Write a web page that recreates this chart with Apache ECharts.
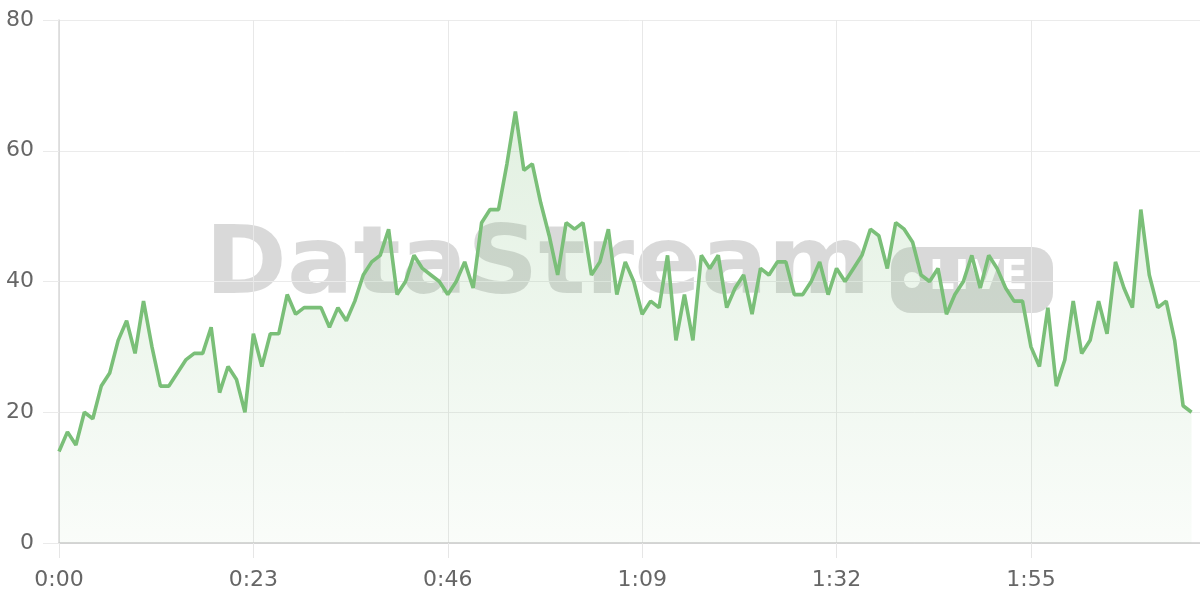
<!DOCTYPE html>
<html>
<head>
<meta charset="utf-8">
<script src="https://cdn.jsdelivr.net/npm/echarts@6/dist/echarts.min.js"></script>
<style>
html,body{margin:0;padding:0;background:#fff;}
#chart{width:1200px;height:600px;}
</style>
</head>
<body>
<div id="chart"></div>
<script>
// Values per second (0:00 .. 2:14)
const values = [
  14,17,15,20,19,24,26,31,34,29,
  37,30,24,24,26,28,29,29,33,23,
  27,25,20,32,27,32,32,38,35,36,
  36,36,33,36,34,37,41,43,44,48,
  38,40,44,42,41,40,38,40,43,39,
  49,51,51,58,66,57,58,52,47,41,
  49,48,49,41,43,48,38,43,40,35,
  37,36,44,31,38,31,44,42,44,36,
  39,41,35,42,41,43,43,38,38,40,
  43,38,42,40,42,44,48,47,42,49,
  48,46,41,40,42,35,38,40,44,39,
  44,42,39,37,37,30,27,36,24,28,
  37,29,31,37,32,43,39,36,51,41,
  36,37,31,21,20
];
const yTicks = [0, 20, 40, 60, 80];
const xTickSeconds = [0, 23, 46, 69, 92, 115];
const watermarkText = 'DataStream';
const badgeText = 'LIVE';

function fmt(s) {
  const m = Math.floor(s / 60);
  const ss = s % 60;
  return m + ':' + (ss < 10 ? '0' : '') + ss;
}

const chart = echarts.init(document.getElementById('chart'), null, {renderer: 'canvas'});
const green = '#7abf78';
const labelFont = {color: '#666', fontSize: 22, fontFamily: 'DejaVu Sans'};

chart.setOption({
  animation: false,
  backgroundColor: '#fff',
  grid: {left: 59, right: 0, top: 20, bottom: 57, containLabel: false, outerBoundsMode: 'none'},
  graphic: [
    {
      type: 'text', z: 0, left: 205, top: 222,
      scaleX: 1.05,
      style: {text: watermarkText, fill: 'rgba(0,0,0,0.15)', font: 'bold 94px "DejaVu Sans"'}
    },
    {
      type: 'rect', z: 0, shape: {x: 891, y: 247, width: 162, height: 66, r: 20},
      style: {fill: 'rgba(0,0,0,0.15)'}
    },
    {
      type: 'circle', z: 0, shape: {cx: 912, cy: 280, r: 8},
      style: {fill: '#fff'}
    },
    {
      type: 'text', z: 0, left: 929, top: 259,
      style: {text: badgeText, fill: '#fff', font: 'bold 40px "DejaVu Sans"'}
    }
  ],
  xAxis: {
    type: 'value',
    min: 0, max: 135, interval: 23,
    axisLine: {show: true, lineStyle: {color: '#ccc', width: 1.5}},
    axisTick: {show: true, length: 15, lineStyle: {color: '#e6e6e6'}},
    splitLine: {show: true, lineStyle: {color: '#e8e8e8'}},
    axisLabel: Object.assign({margin: 26, showMaxLabel: false, formatter: v => fmt(v)}, labelFont)
  },
  yAxis: {
    type: 'value',
    min: yTicks[0], max: yTicks[yTicks.length - 1], interval: 20,
    axisLine: {show: true, lineStyle: {color: '#d9d9d9', width: 1.5}},
    axisTick: {show: true, length: 16, lineStyle: {color: '#eaeaea'}},
    splitLine: {show: true, lineStyle: {color: '#ebebeb'}},
    axisLabel: Object.assign({margin: 25}, labelFont)
  },
  series: [{
    type: 'line',
    data: values.map((v, i) => [i, v]),
    showSymbol: false,
    smooth: false,
    lineStyle: {color: green, width: 3.6},
    itemStyle: {color: green},
    areaStyle: {
      color: new echarts.graphic.LinearGradient(0, 0, 0, 1, [
        {offset: 0, color: 'rgba(125,190,122,0.32)'},
        {offset: 1, color: 'rgba(125,190,122,0.06)'}
      ])
    }
  }]
});
</script>
</body>
</html>
